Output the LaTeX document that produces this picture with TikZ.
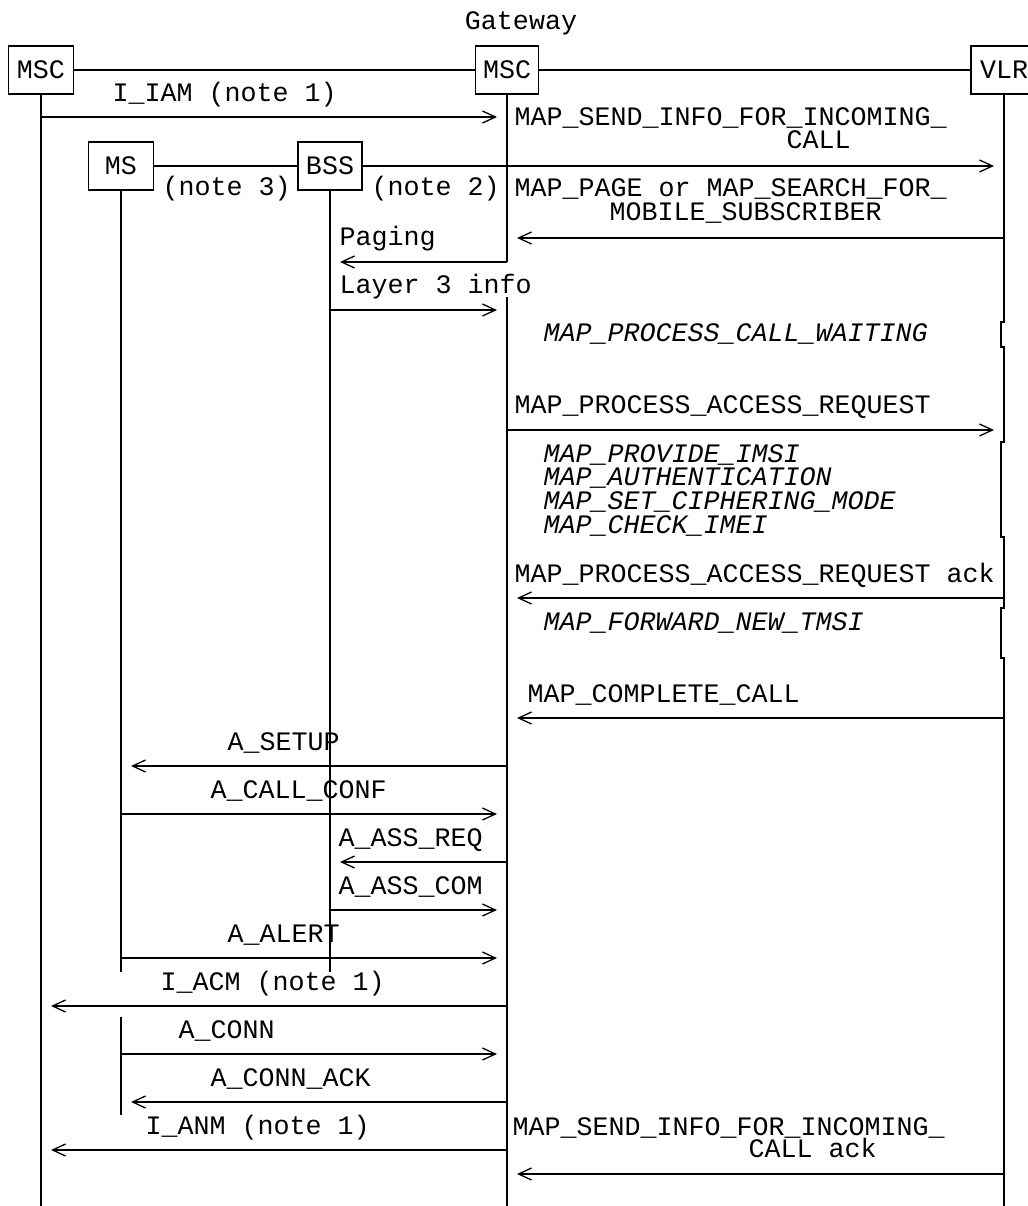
\documentclass[tikz,border=0pt]{standalone}
\usepackage{fontspec}
\newfontfamily\mono{Liberation Mono}
\usetikzlibrary{arrows.meta}
\begin{document}
\begin{tikzpicture}[x=1pt,y=-1pt, line width=1.3pt,
  every node/.style={font=\mono\fontsize{26.67}{24}\selectfont},
  ent/.style={draw, minimum height=48pt, minimum width=65pt, inner sep=0pt},
  lbl/.style={anchor=base west, inner sep=0pt},
  itl/.style={lbl, font=\mono\itshape\fontsize{26.67}{24}\selectfont},
  msg/.style={-{Straight Barb[length=13pt,width=12pt]}, shorten >=10pt}]
\useasboundingbox (0,0) rectangle (1027,1206);

% entities
\node[lbl, anchor=base] (gwt) at (521,30) {Gateway};
\node[ent] (msc) at (41,70) {MSC};
\node[ent, minimum width=63pt] (gw) at (507,70) {MSC};
\node[ent, minimum width=66pt] (vlr) at (1004,70) {VLR};
\node[ent] (ms) at (121,166) {MS};
\node[ent, minimum width=64pt] (bss) at (330,166) {BSS};

% top links
\draw (msc.east) -- (gw.west);
\draw (gw.east) -- (vlr.west);
\draw (ms.east) -- (bss.west);
\draw (bss.east) -- (gw.south |- bss.east);

% lifelines
\draw (msc.south) -- (msc.south |- 0,1206);
\draw (gw.south) -- (gw.south |- 0,262);
\draw (gw.south |- 0,297) -- (gw.south |- 0,1206);
\draw (ms.south) -- (ms.south |- 0,972);
\draw (ms.south |- 0,1017) -- (ms.south |- 0,1115);
\draw (bss.south) -- (bss.south |- 0,972);
\draw (vlr.south) -- (1004,322) -- (1001,322) -- (1001,347) -- (1004,347)
  -- (1004,442) -- (1001,442) -- (1001,537) -- (1004,537) -- (1004,608)
  -- (1001,608) -- (1001,658) -- (1004,658) -- (1004,1206);

% messages
\draw[msg] (msc.south |- 0,117) -- (gw.south |- 0,117);
\draw[msg] (gw.south |- bss.east) -- (vlr.south |- bss.east);
\draw[msg] (vlr.south |- 0,238) -- (gw.south |- 0,238);
\draw[msg] (gw.south |- 0,262) -- (bss.south |- 0,262);
\draw[msg] (bss.south |- 0,310) -- (gw.south |- 0,310);
\draw[msg] (gw.south |- 0,430) -- (vlr.south |- 0,430);
\draw[msg] (vlr.south |- 0,598) -- (gw.south |- 0,598);
\draw[msg] (vlr.south |- 0,718) -- (gw.south |- 0,718);
\draw[msg] (gw.south |- 0,766) -- (ms.south |- 0,766);
\draw[msg] (ms.south |- 0,814) -- (gw.south |- 0,814);
\draw[msg] (gw.south |- 0,862) -- (bss.south |- 0,862);
\draw[msg] (bss.south |- 0,910) -- (gw.south |- 0,910);
\draw[msg] (ms.south |- 0,958) -- (gw.south |- 0,958);
\draw[msg] (gw.south |- 0,1006) -- (msc.south |- 0,1006);
\draw[msg] (ms.south |- 0,1054) -- (gw.south |- 0,1054);
\draw[msg] (gw.south |- 0,1102) -- (ms.south |- 0,1102);
\draw[msg] (gw.south |- 0,1150) -- (msc.south |- 0,1150);
\draw[msg] (vlr.south |- 0,1174) -- (gw.south |- 0,1174);

% labels
\node[lbl] (t1) at (112,102) {I\_IAM (note 1)};
\node[lbl] (t2a) at (514,126) {MAP\_SEND\_INFO\_FOR\_INCOMING\_};
\node[lbl] (t2b) at (786,149) {CALL};
\node[lbl] (n3) at (162,196) {(note 3)};
\node[lbl] (n2) at (371,196) {(note 2)};
\node[lbl] (t3a) at (514,197) {MAP\_PAGE or MAP\_SEARCH\_FOR\_};
\node[lbl] (t3b) at (609,221) {MOBILE\_SUBSCRIBER};
\node[lbl] (t4) at (339,246) {Paging};
\node[lbl] (t5) at (339,293) {Layer 3 info};
\node[itl] (i1) at (543,341) {MAP\_PROCESS\_CALL\_WAITING};
\node[lbl] (t6) at (514,413) {MAP\_PROCESS\_ACCESS\_REQUEST};
\node[itl] (i2) at (543,462) {MAP\_PROVIDE\_IMSI};
\node[itl] (i3) at (543,485) {MAP\_AUTHENTICATION};
\node[itl] (i4) at (543,509) {MAP\_SET\_CIPHERING\_MODE};
\node[itl] (i5) at (543,533) {MAP\_CHECK\_IMEI};
\node[lbl] (t7) at (514,582) {MAP\_PROCESS\_ACCESS\_REQUEST ack};
\node[itl] (i6) at (543,630) {MAP\_FORWARD\_NEW\_TMSI};
\node[lbl] (t8) at (527,702) {MAP\_COMPLETE\_CALL};
\node[lbl] (t9) at (227,750) {A\_SETUP};
\node[lbl] (t10) at (210,798) {A\_CALL\_CONF};
\node[lbl] (t11) at (338,846) {A\_ASS\_REQ};
\node[lbl] (t12) at (338,894) {A\_ASS\_COM};
\node[lbl] (t13) at (227,942) {A\_ALERT};
\node[lbl] (t14) at (160,990) {I\_ACM (note 1)};
\node[lbl] (t15) at (178,1038) {A\_CONN};
\node[lbl] (t16) at (210,1086) {A\_CONN\_ACK};
\node[lbl] (t17) at (145,1134) {I\_ANM (note 1)};
\node[lbl] (t18a) at (512,1135) {MAP\_SEND\_INFO\_FOR\_INCOMING\_};
\node[lbl] (t18b) at (748,1157) {CALL ack};
\end{tikzpicture}
\end{document}
